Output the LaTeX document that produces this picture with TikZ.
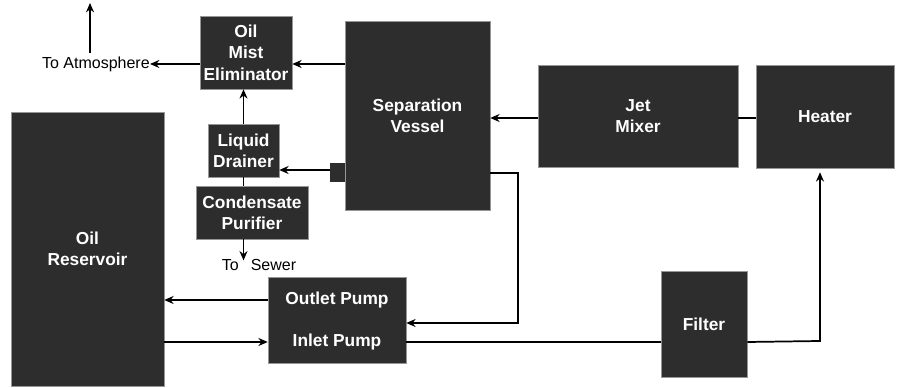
\documentclass[tikz,border=0pt]{standalone}
\usepackage{fontspec}
\setmainfont{Liberation Sans}
\usetikzlibrary{arrows.meta}

\definecolor{boxgray}{RGB}{45,45,45}
\definecolor{edgegray}{RGB}{150,150,150}

\tikzset{
	unit/.style={draw=edgegray, line width=0.4pt, fill=boxgray, text=white, inner sep=0pt,
		font=\bfseries\fontsize{13}{16}\selectfont, align=center},
	flow/.style={line width=1.3pt, -{Stealth[length=7pt,width=6pt]}},
	pipe/.style={line width=1.3pt},
	tag/.style={font=\fontsize{12}{14}\selectfont, inner sep=0pt}
}

\begin{document}
\begin{tikzpicture}[x=0.75pt, y=-0.75pt]
	\useasboundingbox[fill=white] (0,0) rectangle (900,388);

	% units
	\node[unit, minimum width=92*0.75pt, minimum height=73*0.75pt] (mist) at (246, 52.5) {Oil\\Mist\\Eliminator};
	\node[unit, minimum width=145*0.75pt, minimum height=189*0.75pt] (vessel) at (417.5, 115.5) {Separation\\Vessel};
	\node[unit, draw=none, minimum width=15*0.75pt, minimum height=19*0.75pt] (tab) at (337.5, 172.5) {};
	\node[unit, minimum width=71*0.75pt, minimum height=53*0.75pt] (drainer) at (243.5, 150.5) {Liquid\\Drainer};
	\node[unit, minimum width=112*0.75pt, minimum height=53*0.75pt] (purifier) at (252, 212.5) {Condensate\\Purifier};
	\node[unit, minimum width=153*0.75pt, minimum height=274*0.75pt] (reservoir) at (87.5, 249) {Oil\\Reservoir};
	\node[unit, minimum width=138*0.75pt, minimum height=86*0.75pt] (pump) at (337, 320) {};
	\node[unit, draw=none, fill=none] (outlet) at (337, 300) {Outlet Pump};
	\node[unit, draw=none, fill=none] (inlet) at (337, 342) {Inlet Pump};
	\node[unit, minimum width=200*0.75pt, minimum height=102*0.75pt] (mixer) at (638, 116) {Jet\\Mixer};
	\node[unit, minimum width=138*0.75pt, minimum height=103*0.75pt] (heater) at (825, 116.5) {Heater};
	\node[unit, minimum width=86*0.75pt, minimum height=106*0.75pt] (filter) at (704, 324) {Filter};

	% free ends
	\node[tag, anchor=east] (atm) at (150, 64) {To Atmosphere};
	\node[tag] (sewer) at (259, 265) {To\hspace{0.75em}Sewer};
	\coordinate (sky) at (90, 3);
	\coordinate (vent) at (90, 53);
	\coordinate (ret1) at (518, 173);
	\coordinate (ret2) at (518, 323);
	\coordinate (rise) at (820, 341);

	% connectors
	\draw[flow] (vent) -- (sky);
	\draw[flow] (mist.west |- atm) -- (atm.east);
	\draw[flow] (vessel.west |- atm) -- (mist.east |- atm);
	\draw[flow] (drainer.north) -- (mist.south -| drainer.north);
	\draw[flow] (tab.west |- 0,170) -- (drainer.east |- 0,170);
	\draw[pipe] (drainer.south) -- (purifier.north -| drainer.south);
	\draw[flow] (purifier.south -| drainer.south) -- ([yshift=-1pt]sewer.north -| drainer.south);
	\draw[flow] (mixer.west |- 0,118) -- (vessel.east |- 0,118);
	\draw[pipe] (heater.west |- 0,118) -- (mixer.east |- 0,118);
	\draw[flow] (vessel.east |- ret1) -- (ret1) -- (ret2) -- (pump.east |- ret2);
	\draw[flow] (pump.west |- outlet) -- (reservoir.east |- outlet);
	\draw[flow] (reservoir.east |- inlet) -- (pump.west |- inlet);
	\draw[pipe] (pump.east |- inlet) -- (filter.west |- inlet);
	\draw[flow, shorten >=3pt] (filter.east |- inlet) -- (rise) -- (rise |- heater.south);
\end{tikzpicture}
\end{document}
